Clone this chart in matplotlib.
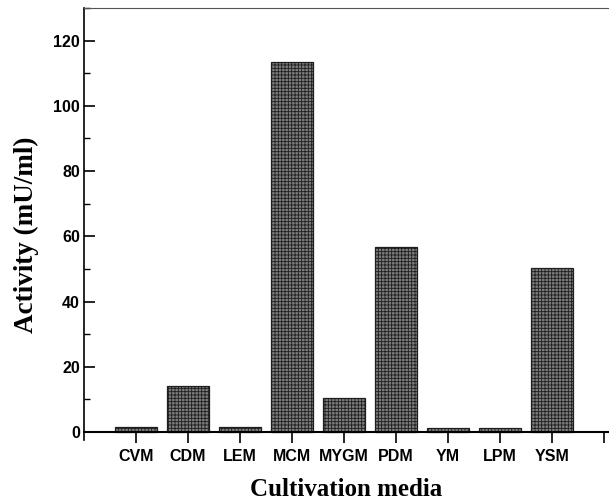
import matplotlib
matplotlib.use("Agg")
import matplotlib.pyplot as plt
import matplotlib.ticker as mticker

categories = ["CVM", "CDM", "LEM", "MCM", "MYGM", "PDM", "YM", "LPM", "YSM"]
activity = [1.5, 14, 1.5, 113.5, 10.3, 56.7, 1.1, 1.1, 50.3]

plt.rcParams['hatch.linewidth'] = 0.6
fig = plt.figure(figsize=(6.09, 4.99), dpi=100)
ax = fig.add_axes([0.138, 0.118, 0.862, 0.866])

pos = list(range(1, len(categories) + 1))
ax.bar(pos, activity, width=0.8, facecolor='#7c7c7c', edgecolor='#1e1e1e',
       hatch='+++++', linewidth=0.9, zorder=2)

ax.set_xlim(0, 10.1)
ax.set_ylim(-2.5, 130)
ax.spines['bottom'].set_position(('data', 0))
ax.spines['bottom'].set_linewidth(1.5)
ax.spines['left'].set_linewidth(1.2)
ax.spines['top'].set_linewidth(0.8)
ax.spines['top'].set_color('#555555')
ax.spines['right'].set_visible(False)

ax.set_xticks(range(1, 11))
ax.set_xticklabels(categories + [""])
ax.set_yticks([0, 20, 40, 60, 80, 100, 120])
ax.yaxis.set_minor_locator(mticker.MultipleLocator(10))
ax.tick_params(axis='y', which='major', direction='in', length=8, width=1.2, pad=3)
ax.tick_params(axis='y', which='minor', direction='in', length=4, width=1)
ax.tick_params(axis='x', which='major', direction='out', length=8, width=1.2, pad=4)
for lab in ax.get_xticklabels() + ax.get_yticklabels():
    lab.set_fontfamily('Liberation Sans')
    lab.set_fontweight('bold')
    lab.set_fontsize(11.5)

ax.set_xlabel("Cultivation media", fontfamily='Liberation Serif', fontweight='bold',
              fontsize=18, labelpad=10)
ax.set_ylabel("Activity (mU/ml)", fontfamily='Liberation Serif', fontweight='bold',
              fontsize=19.5)
ax.yaxis.set_label_coords(-0.086, 0.475)

fig.savefig("out.png", dpi=100)
